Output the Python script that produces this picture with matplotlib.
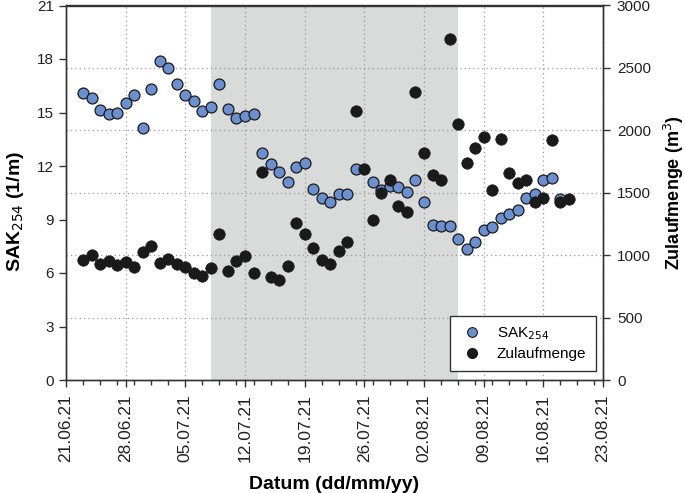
import numpy as np
import pandas as pd
import matplotlib
matplotlib.use('Agg')
import matplotlib.pyplot as plt
import matplotlib.dates as mdates
from matplotlib.ticker import MultipleLocator, FixedLocator
from matplotlib.lines import Line2D

plt.rcParams['font.family'] = ['Liberation Sans', 'DejaVu Sans']

# Messtage (täglich, 23.06.21 - 19.08.21)
dates = pd.date_range('2021-06-23', '2021-08-19', freq='D')

# SAK254 (1/m), NaN = verdeckt
sak254 = [16.11, 15.81, 15.12, 14.90, 14.99, 15.51, 16.00, 14.11, 16.30, 17.91,
          17.50, 16.60, 16.00, 15.62, 15.10, 15.33, 16.60, 15.20, 14.71, 14.80,
          14.90, 12.75, 12.10, 11.68, 11.08, 11.93, 12.19, 10.69, 10.22, 10.00,
          10.41, 10.41, 11.81, np.nan, 11.12, 10.67, 10.88, 10.82, 10.52, 11.20,
          10.00, 8.71, 8.62, 8.62, 7.91, 7.33, 7.72, 8.41, 8.60, 9.10,
          9.31, 9.51, 10.19, 10.45, 11.21, 11.30, 10.13, np.nan]

# Zulaufmenge (m3)
zulauf = [963, 1002, 928, 952, 925, 944, 909, 1029, 1077, 941,
          973, 930, 904, 856, 834, 898, 1166, 877, 952, 997,
          858, 1663, 824, 800, 914, 1257, 1169, 1059, 965, 933,
          1037, 1109, 2155, 1690, 1278, 1500, 1601, 1390, 1345, 2307,
          1818, 1644, 1604, 2733, 2053, 1738, 1856, 1944, 1524, 1931,
          1658, 1580, 1602, 1425, 1457, 1920, 1425, 1450]

shade_start = pd.Timestamp('2021-07-08')
shade_end = pd.Timestamp('2021-08-06')
x_start = pd.Timestamp('2021-06-21')
x_end = pd.Timestamp('2021-08-23')

blue = '#6c8fcf'
grid_kw = dict(color='#999999', linestyle=(0, (1, 2.5)), linewidth=0.9)

fig = plt.figure(figsize=(6.85, 4.93), dpi=100)
ax1 = fig.add_axes([66 / 685, 1 - 380 / 493, (603 - 66) / 685, (380 - 5.5) / 493])
ax2 = ax1.twinx()

ax1.axvspan(shade_start, shade_end, color='#d9dada', zorder=0, lw=0)

ax1.scatter(dates, sak254, s=62, color=blue, edgecolors='#1a1a1a', linewidths=0.9,
            zorder=3, label='SAK$_{254}$')
ax2.scatter(dates, zulauf, s=68, color='#1a1a1a', edgecolors='#1a1a1a', linewidths=0.5,
            zorder=3, label='Zulaufmenge')

# Achsen
ax1.set_xlim(x_start, x_end)
ax1.set_ylim(0, 21)
ax2.set_ylim(0, 3000)
ax1.yaxis.set_major_locator(MultipleLocator(3))
ax2.yaxis.set_major_locator(MultipleLocator(500))
# Gitterlinien passend zur rechten Achse
ax1.yaxis.set_minor_locator(MultipleLocator(3.5))
ax1.tick_params(axis='y', which='minor', length=0)

weeks = pd.date_range(x_start, x_end, freq='7D')
ax1.xaxis.set_major_locator(FixedLocator(mdates.date2num(weeks)))
ax1.xaxis.set_minor_locator(FixedLocator(mdates.date2num(pd.date_range(x_start, x_end, freq='2D'))))
ax1.xaxis.set_major_formatter(mdates.DateFormatter('%d.%m.%y'))
for lab in ax1.get_xticklabels():
    lab.set_rotation(90)

ax1.grid(True, axis='x', which='major', **grid_kw)
ax1.grid(True, axis='y', which='minor', **grid_kw)
ax1.set_axisbelow(True)

for ax in (ax1, ax2):
    for sp in ax.spines.values():
        sp.set_color('#333333')
        sp.set_linewidth(1.0)
    ax.tick_params(which='major', direction='out', length=5, width=1, color='#333333',
                   labelsize=11, labelcolor='#222222')
    ax.tick_params(axis='x', which='minor', direction='out', length=3.5, width=1, color='#333333')
ax1.tick_params(axis='x', labelsize=12.5, pad=5)
ax2.tick_params(axis='y', pad=5)

ax1.set_xlabel('Datum (dd/mm/yy)', fontsize=14, fontweight='bold', labelpad=10)
ax1.set_ylabel('SAK$_{254}$ (1/m)', fontsize=14, fontweight='bold')
ax1.yaxis.set_label_coords(-0.075, 0.45)
ax2.set_ylabel('Zulaufmenge (m$^3$)', fontsize=13, fontweight='bold', labelpad=8)

handles = [Line2D([], [], marker='o', ls='', markersize=7, markerfacecolor=blue,
                  markeredgecolor='#1a1a1a', markeredgewidth=0.8),
           Line2D([], [], marker='o', ls='', markersize=7, markerfacecolor='#1a1a1a',
                  markeredgecolor='#1a1a1a')]
leg = ax2.legend(handles, ['SAK$_{254}$', 'Zulaufmenge'], loc='lower right',
                 bbox_to_anchor=(1 - 7 / 537, 9 / 374.5), fontsize=11, frameon=True,
                 fancybox=False, framealpha=1, edgecolor='#333333',
                 borderpad=0.65, handlelength=1.6, handletextpad=0.8,
                 labelspacing=0.3, borderaxespad=0)
leg.get_frame().set_linewidth(1.0)

fig.savefig('out.png', dpi=100)
